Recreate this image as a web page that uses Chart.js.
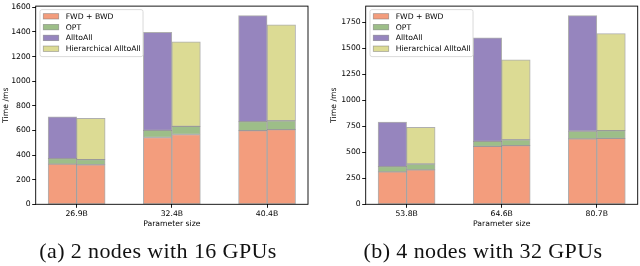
<!DOCTYPE html>
<html>
<head>
<meta charset="utf-8">
<script src="https://cdn.jsdelivr.net/npm/chart.js@4.4.0/dist/chart.umd.min.js"></script>
<style>
body{margin:0;background:#fff;width:640px;height:266px;overflow:hidden;position:relative}
.wrap{position:absolute;top:0;width:320px;height:266px}
.cap{position:absolute;top:240px;font-family:'Liberation Serif',serif;font-size:22px;line-height:22px;letter-spacing:0.4px;white-space:nowrap;transform:translateX(-50%);color:#111}
</style>
</head>
<body>
<div class="wrap" style="left:0"><canvas id="c1" width="320" height="266"></canvas></div>
<div class="wrap" style="left:320px"><canvas id="c2" width="320" height="266"></canvas></div>
<div class="cap" style="left:158px">(a) 2 nodes with 16 GPUs</div>
<div class="cap" style="left:483px">(b) 4 nodes with 32 GPUs</div>
<script>
// (a) 2 nodes, 16 GPUs
const sizesA = ['26.9B', '32.4B', '40.4B'];
const fwdA1 = [327, 543, 599];
const optA1 = [44, 58, 72];
const a2aA = [340, 797, 862];
const fwdA2 = [321, 567, 607];
const optA2 = [42, 66, 72];
const hierA = [335, 687, 780];
const yTicksA = [0, 200, 400, 600, 800, 1000, 1200, 1400, 1600];

// (b) 4 nodes, 32 GPUs
const sizesB = ['53.8B', '64.6B', '80.7B'];
const fwdB1 = [312, 557, 629];
const optB1 = [50, 47, 73];
const a2aB = [428, 995, 1111];
const fwdB2 = [330, 563, 633];
const optB2 = [57, 57, 75];
const hierB = [352, 768, 932];
const yTicksB = [0, 250, 500, 750, 1000, 1250, 1500, 1750];

const legendNames = ['FWD + BWD', 'OPT', 'AlltoAll', 'Hierarchical AlltoAll'];
const colors = ['#f39d7d', '#9dbe88', '#9685be', '#dcdb94'];
const edge = 'rgba(110,110,110,0.55)';

Chart.defaults.font.family = 'DejaVu Sans';
Chart.defaults.font.size = 7.7;
Chart.defaults.color = '#000';

// axes frame + matplotlib style legend box
const boxPlugin = {
  id: 'boxLegend',
  afterDraw(chart) {
    const ctx = chart.ctx, a = chart.chartArea;
    ctx.save();
    ctx.strokeStyle = '#000';
    ctx.lineWidth = 0.9;
    ctx.strokeRect(a.left, a.top, a.right - a.left, a.bottom - a.top);

    ctx.font = '7.7px "DejaVu Sans"';
    let tw = 0;
    legendNames.forEach(n => { tw = Math.max(tw, ctx.measureText(n).width); });
    const x0 = a.left + 4.3, y0 = a.top + 3.5;
    const w = 28 + tw, h = 47;
    ctx.beginPath();
    ctx.roundRect(x0, y0, w, h, 2);
    ctx.fillStyle = 'rgba(255,255,255,0.8)';
    ctx.fill();
    ctx.strokeStyle = '#d0d0d0';
    ctx.lineWidth = 0.8;
    ctx.stroke();
    legendNames.forEach((n, i) => {
      const cy = y0 + 6.7 + i * 10.8;
      ctx.fillStyle = colors[i];
      ctx.fillRect(x0 + 3.3, cy - 2.7, 15.4, 5.4);
      ctx.strokeStyle = edge;
      ctx.strokeRect(x0 + 3.3, cy - 2.7, 15.4, 5.4);
      ctx.fillStyle = '#000';
      ctx.textBaseline = 'middle';
      ctx.fillText(n, x0 + 25.7, cy + 0.5);
    });
    ctx.restore();
  }
};

function pts(arr) {
  return arr.map((v, i) => ({x: i, y: v}));
}

function ds(label, arr, ci, stack) {
  return {
    label: label,
    data: pts(arr),
    stack: stack,
    backgroundColor: colors[ci],
    borderColor: edge,
    borderWidth: 1,
    borderSkipped: false,
    barThickness: 28.5
  };
}

function build(id, sizes, f1, o1, a1, f2, o2, a2, yTicks, yMax, leftW, rightPad, titlePad) {
  const ctx = document.getElementById(id).getContext('2d');
  return new Chart(ctx, {
    type: 'bar',
    data: {
      datasets: [
        ds('FWD + BWD', f1, 0, 'a'),
        ds('OPT', o1, 1, 'a'),
        ds('AlltoAll', a1, 2, 'a'),
        ds('FWD + BWD', f2, 0, 'b'),
        ds('OPT', o2, 1, 'b'),
        ds('Hierarchical AlltoAll', a2, 3, 'b')
      ]
    },
    options: {
      responsive: false,
      animation: false,
      layout: {padding: {top: 2.5, right: rightPad, bottom: 34.7, left: 0}},
      plugins: {legend: {display: false}, tooltip: {enabled: false}},
      scales: {
        x: {
          type: 'linear',
          min: -0.43,
          max: 2.43,
          offset: false,
          afterBuildTicks: s => { s.ticks = sizes.map((_, i) => ({value: i})); },
          afterFit: s => { s.height = 27; },
          ticks: {callback: v => sizes[v], padding: 1.5, autoSkip: false, maxRotation: 0},
          grid: {display: true, drawOnChartArea: false, offset: false, tickLength: 3.5, color: '#000', lineWidth: 0.9},
          border: {display: false},
          title: {display: true, text: 'Parameter size', padding: {top: 0, bottom: 2.7}}
        },
        y: {
          stacked: true,
          min: 0,
          max: yMax,
          afterBuildTicks: s => { s.ticks = yTicks.map(v => ({value: v})); },
          afterFit: s => { s.width = leftW; },
          ticks: {padding: 1.5, callback: v => String(v)},
          grid: {display: true, drawOnChartArea: false, tickLength: 3.5, color: '#000', lineWidth: 0.9},
          border: {display: false},
          title: {display: true, text: 'Time /ms', padding: {top: titlePad, bottom: 0}}
        }
      }
    },
    plugins: [boxPlugin]
  });
}

build('c1', sizesA, fwdA1, optA1, a2aA, fwdA2, optA2, hierA, yTicksA, 1610, 35.7, 12, 0.9);
build('c2', sizesB, fwdB1, optB1, a2aB, fwdB2, optB2, hierB, yTicksB, 1904, 45.7, 2.3, 9.4);
</script>
</body>
</html>
